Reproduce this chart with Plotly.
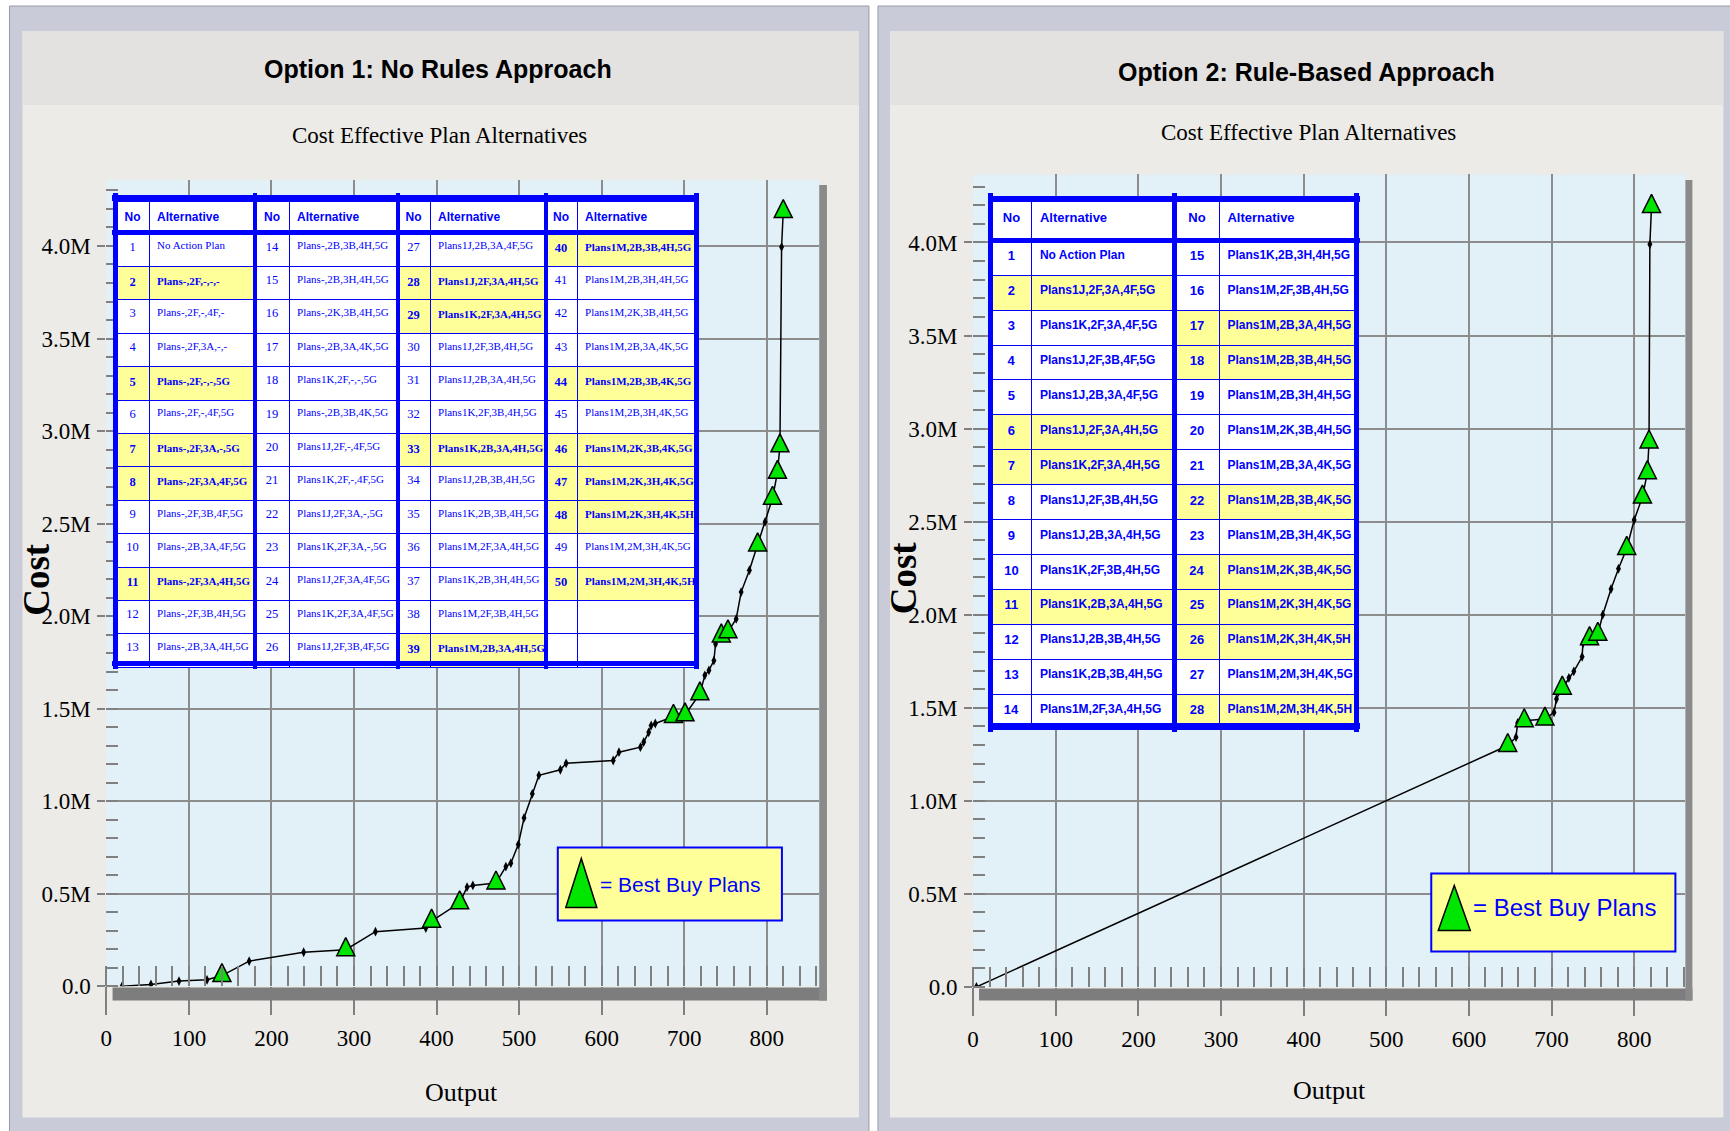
import plotly.graph_objects as go

W, H = 1730, 1131
# the photographed page comes out slightly squeezed; these factors map the
# wanted picture position to the page position
SX, BX, SY = 0.996, 5.5, 0.988

# ---------- data (cost in $M) ----------
opt1_output = [19, 54, 88, 122, 140, 173, 239, 290, 326, 387, 394, 428, 437, 444, 472,
               484, 490, 499, 506, 516, 524, 550, 557, 614, 621, 647, 651, 657, 660, 665,
               687, 701, 719, 725, 730, 736, 738, 745, 753, 763, 769, 779, 789, 798, 807,
               813, 816, 818, 820]
opt1_cost = [0.0, 0.01, 0.028, 0.035, 0.058, 0.136, 0.184, 0.198, 0.295, 0.315, 0.352, 0.451,
             0.536, 0.545, 0.558, 0.647, 0.665, 0.766, 0.91, 1.04, 1.14, 1.17, 1.205, 1.22,
             1.265, 1.292, 1.32, 1.372, 1.409, 1.42, 1.458, 1.467, 1.58, 1.68, 1.707, 1.76,
             1.85, 1.893, 1.915, 1.985, 2.13, 2.248, 2.385, 2.509, 2.637, 2.777, 2.92, 3.995,
             4.186]
opt1_best = [0, 0, 0, 0, 1, 0, 0, 1, 0, 0, 1, 1, 0, 0, 1, 0, 0, 0, 0, 0, 0, 0, 0, 0, 0,
             0, 0, 0, 0, 0, 1, 1, 1, 0, 0, 0, 0, 1, 1, 0, 0, 0, 1, 0, 1, 1, 1, 0, 1]

opt2_output = [4, 647, 657, 659, 667, 692, 703, 706, 713, 721, 727, 737, 738, 746, 756,
               762, 772, 781, 791, 800, 810, 816, 818, 819, 821]
opt2_cost = [0.0, 1.297, 1.342, 1.418, 1.43, 1.439, 1.475, 1.547, 1.605, 1.661, 1.696, 1.774,
             1.846, 1.871, 1.895, 2.0, 2.138, 2.247, 2.356, 2.509, 2.632, 2.763, 2.928, 3.99,
             4.194]
opt2_best = [0, 1, 0, 0, 1, 1, 0, 0, 1, 0, 0, 0, 0, 1, 1, 0, 0, 0, 1, 0, 1, 1, 1, 0, 1]

x_ticks = [0, 100, 200, 300, 400, 500, 600, 700, 800]
y_ticks = [0.0, 0.5, 1.0, 1.5, 2.0, 2.5, 3.0, 3.5, 4.0]
y_ticktext = ["0.0", "0.5M", "1.0M", "1.5M", "2.0M", "2.5M", "3.0M", "3.5M", "4.0M"]

opt1_plans = [
    "No Action Plan", "Plans-,2F,-,-,-", "Plans-,2F,-,4F,-", "Plans-,2F,3A,-,-",
    "Plans-,2F,-,-,5G", "Plans-,2F,-,4F,5G", "Plans-,2F,3A,-,5G", "Plans-,2F,3A,4F,5G",
    "Plans-,2F,3B,4F,5G", "Plans-,2B,3A,4F,5G", "Plans-,2F,3A,4H,5G", "Plans-,2F,3B,4H,5G",
    "Plans-,2B,3A,4H,5G", "Plans-,2B,3B,4H,5G", "Plans-,2B,3H,4H,5G", "Plans-,2K,3B,4H,5G",
    "Plans-,2B,3A,4K,5G", "Plans1K,2F,-,-,5G", "Plans-,2B,3B,4K,5G", "Plans1J,2F,-,4F,5G",
    "Plans1K,2F,-,4F,5G", "Plans1J,2F,3A,-,5G", "Plans1K,2F,3A,-,5G", "Plans1J,2F,3A,4F,5G",
    "Plans1K,2F,3A,4F,5G", "Plans1J,2F,3B,4F,5G", "Plans1J,2B,3A,4F,5G", "Plans1J,2F,3A,4H,5G",
    "Plans1K,2F,3A,4H,5G", "Plans1J,2F,3B,4H,5G", "Plans1J,2B,3A,4H,5G", "Plans1K,2F,3B,4H,5G",
    "Plans1K,2B,3A,4H,5G", "Plans1J,2B,3B,4H,5G", "Plans1K,2B,3B,4H,5G", "Plans1M,2F,3A,4H,5G",
    "Plans1K,2B,3H,4H,5G", "Plans1M,2F,3B,4H,5G", "Plans1M,2B,3A,4H,5G", "Plans1M,2B,3B,4H,5G",
    "Plans1M,2B,3H,4H,5G", "Plans1M,2K,3B,4H,5G", "Plans1M,2B,3A,4K,5G", "Plans1M,2B,3B,4K,5G",
    "Plans1M,2B,3H,4K,5G", "Plans1M,2K,3B,4K,5G", "Plans1M,2K,3H,4K,5G", "Plans1M,2K,3H,4K,5H",
    "Plans1M,2M,3H,4K,5G", "Plans1M,2M,3H,4K,5H"]
opt1_highlight = [2, 5, 7, 8, 11, 28, 29, 33, 39, 40, 44, 46, 47, 48, 50]

opt2_plans = [
    "No Action Plan", "Plans1J,2F,3A,4F,5G", "Plans1K,2F,3A,4F,5G", "Plans1J,2F,3B,4F,5G",
    "Plans1J,2B,3A,4F,5G", "Plans1J,2F,3A,4H,5G", "Plans1K,2F,3A,4H,5G", "Plans1J,2F,3B,4H,5G",
    "Plans1J,2B,3A,4H,5G", "Plans1K,2F,3B,4H,5G", "Plans1K,2B,3A,4H,5G", "Plans1J,2B,3B,4H,5G",
    "Plans1K,2B,3B,4H,5G", "Plans1M,2F,3A,4H,5G", "Plans1K,2B,3H,4H,5G", "Plans1M,2F,3B,4H,5G",
    "Plans1M,2B,3A,4H,5G", "Plans1M,2B,3B,4H,5G", "Plans1M,2B,3H,4H,5G", "Plans1M,2K,3B,4H,5G",
    "Plans1M,2B,3A,4K,5G", "Plans1M,2B,3B,4K,5G", "Plans1M,2B,3H,4K,5G", "Plans1M,2K,3B,4K,5G",
    "Plans1M,2K,3H,4K,5G", "Plans1M,2K,3H,4K,5H", "Plans1M,2M,3H,4K,5G", "Plans1M,2M,3H,4K,5H"]
opt2_highlight = [2, 6, 7, 11, 17, 18, 22, 24, 25, 26, 28]

BLUE = "#0000ff"
YELLOW = "#ffff99"
GREEN = "#00e600"


def px(x):
    return (x - BX) / SX / W


def py(y):
    return 1 - y / SY / H


def rect(x0, y0, x1, y1, fill, line=None, lw=0, layer="below"):
    return dict(type="rect", xref="paper", yref="paper", x0=px(x0), x1=px(x1),
                y0=py(y1), y1=py(y0), fillcolor=fill, layer=layer,
                line=dict(color=line or fill, width=lw))


def bar(x0, y0, x1, y1):
    # solid blue bar drawn as an annotation so it sits above the table layer
    return dict(x=px((x0 + x1) / 2), y=py((y0 + y1) / 2), xref="paper", yref="paper",
                text=" ", showarrow=False, width=(x1 - x0) / SX, height=(y1 - y0) / SY,
                bgcolor=BLUE, borderpad=0, borderwidth=0, xanchor="center", yanchor="middle")


def label(x, y, text, size, family="Liberation Serif", color="black", **kw):
    return dict(x=px(x), y=py(y), xref="paper", yref="paper", text=text, showarrow=False,
                font=dict(family=family, size=size, color=color),
                xanchor=kw.pop("xanchor", "center"), yanchor="middle", **kw)


def make_table(plans, highlight, rows, groups, widths, box, font, sizes, hsize,
               header_h, cell_h, bold_all):
    values, fills, aligns = [], [], []
    for g in range(groups):
        nums, names, cols = [], [], []
        for r in range(rows):
            i = g * rows + r
            if i < len(plans):
                n = i + 1
                hl = n in highlight
                b = hl or bold_all
                nums.append(f"<b>{n}</b>" if b else str(n))
                names.append(f"<b>{plans[i]}</b>" if b else plans[i])
                cols.append(YELLOW if hl else "white")
            else:
                nums.append("")
                names.append("")
                cols.append("white")
        values += [nums, names]
        fills += [cols, cols]
        aligns += ["center", "left"]
    x0, y0, x1, y1 = box
    return go.Table(
        domain=dict(x=[px(x0), px(x1)], y=[py(y1), py(y0)]),
        columnwidth=widths,
        header=dict(values=["<b>No</b>", "<b>Alternative</b>"] * groups,
                    align=aligns, height=header_h / SY, fill_color="white",
                    line=dict(color=BLUE, width=1),
                    font=dict(family="Liberation Sans", size=hsize, color=BLUE)),
        cells=dict(values=values, align=aligns, height=cell_h / SY, fill_color=fills,
                   line=dict(color=BLUE, width=1),
                   font=dict(family=font, size=sizes * groups, color=BLUE)),
    )


fig = go.Figure()

# --- curves ---
for xs, ys, best, xa, ya in [(opt1_output, opt1_cost, opt1_best, "x", "y"),
                             (opt2_output, opt2_cost, opt2_best, "x2", "y2")]:
    fig.add_trace(go.Scatter(
        x=xs, y=ys, mode="lines+markers", xaxis=xa, yaxis=ya,
        line=dict(color="black", width=1.5),
        marker=dict(symbol="diamond-tall", size=7, color="black"),
        showlegend=False, hoverinfo="skip"))
    # flipped arrow-down so that the standoff lifts the triangle onto the point
    fig.add_trace(go.Scatter(
        x=[x for x, b in zip(xs, best) if b], y=[y for y, b in zip(ys, best) if b],
        mode="markers", xaxis=xa, yaxis=ya,
        marker=dict(symbol="arrow-down", angle=180, size=18, color=GREEN, standoff=12,
                    line=dict(color="black", width=1.5)),
        showlegend=False, hoverinfo="skip"))

# --- tables ---
fig.add_trace(make_table(opt1_plans, opt1_highlight, 13, 4,
                         [33, 106, 34, 108, 33, 115, 32, 118],
                         (115.5, 201.7, 695, 672), "Liberation Serif", [12.5, 11], 12,
                         31, 33, False))
fig.add_trace(make_table(opt2_plans, opt2_highlight, 14, 2, [41, 143, 45, 137],
                         (990, 201.7, 1355.5, 732), "Liberation Sans", [13, 12], 13,
                         38, 34.5, True))

# --- frames / backgrounds ---
shapes = [
    rect(9, 6, 868, 1150, "#c9cbd8", "#9a9aa6", 1),
    rect(22, 31, 858, 1117, "#ecebe7"),
    rect(22, 31, 858, 105, "#e3e2e0"),
    rect(877, 6, 1740, 1150, "#c9cbd8", "#9a9aa6", 1),
    rect(889, 31, 1722, 1117, "#ecebe7"),
    rect(889, 31, 1722, 105, "#e3e2e0"),
    rect(105.8, 180, 818.3, 985.8, "#e2f0f7"),
    rect(972.1, 174.3, 1684, 986.4, "#e2f0f7"),
    # 3-D floor / wall shadows
    rect(112, 987, 826, 1000, "#7d7d7d", layer="above"),
    rect(818.3, 185, 826, 1000, "#8a8a8a", layer="above"),
    rect(978, 988, 1691, 1000, "#7d7d7d", layer="above"),
    rect(1684, 180, 1691, 1000, "#8a8a8a", layer="above"),
    # best-buy keys
    rect(557, 847, 781, 920, YELLOW, BLUE, 2, layer="above"),
    rect(1430, 873, 1674, 951, YELLOW, BLUE, 2, layer="above"),
]
for (ax, ay, bw, bh) in [(565, 907, 31, 49), (1437, 930, 32, 45)]:
    shapes.append(dict(type="path", xref="paper", yref="paper", layer="above",
                       path=f"M {px(ax)} {py(ay)} L {px(ax + bw)} {py(ay)} "
                            f"L {px(ax + bw / 2)} {py(ay - bh)} Z",
                       fillcolor=GREEN, line=dict(color="black", width=1.5)))

annotations = [
    label(437, 69, "<b>Option 1: No Rules Approach</b>", 25, "Liberation Sans"),
    label(1305, 72, "<b>Option 2: Rule-Based Approach</b>", 25, "Liberation Sans"),
    label(439, 135, "Cost Effective Plan Alternatives", 23),
    label(1307, 132, "Cost Effective Plan Alternatives", 23),
    label(36, 579, "<b>Cost</b>", 37, textangle=-90),
    label(902, 577, "<b>Cost</b>", 37, textangle=-90),
    label(461, 1092, "Output", 26),
    label(1328, 1090, "Output", 26),
    label(597, 884, "= Best Buy Plans", 21, "Liberation Sans", BLUE, xanchor="left"),
    label(1470, 907, "= Best Buy Plans", 24, "Liberation Sans", BLUE, xanchor="left"),
]
# thick table borders
for x0, y0, x1, y1 in [(113, 195.5, 697.5, 201), (113, 661, 697.5, 666), (113, 195.5, 117.5, 666),
                       (693, 195.5, 697.5, 666), (113, 230.5, 697.5, 235),
                       (252.7, 195.5, 256.7, 666), (395, 195.5, 399, 666), (543, 195.5, 547, 666),
                       (987, 196, 1358, 202), (987, 723, 1358, 729), (987, 196, 992, 729),
                       (1353, 196, 1358, 729), (987, 237.5, 1358, 242.5),
                       (1171, 196, 1176, 729)]:
    annotations.append(bar(x0, y0, x1, y1))

tick_font = dict(family="Liberation Serif", size=23, color="black")
xcommon = dict(tickvals=x_ticks, showgrid=True, gridcolor="#8c8c8c", gridwidth=2,
               zeroline=False, showline=False, ticks="outside", ticklen=28, tickwidth=2,
               tickcolor="#808080", ticklabelstandoff=3, tickfont=tick_font,
               minor=dict(dtick=20, ticks="inside", ticklen=20, tickcolor="#808080",
                          tickwidth=1.5, showgrid=False))
ycommon = dict(tickvals=y_ticks, ticktext=y_ticktext, showgrid=True, gridcolor="#8c8c8c",
               gridwidth=2, zeroline=False, showline=False, ticks="outside", ticklen=8,
               tickwidth=2, tickcolor="#808080", ticklabelstandoff=2, tickfont=tick_font,
               minor=dict(dtick=0.1, ticks="inside", ticklen=12, tickcolor="#808080",
                          tickwidth=1.5, showgrid=False))

fig.update_layout(
    width=W, height=H, margin=dict(l=0, r=0, t=0, b=0),
    paper_bgcolor="white", plot_bgcolor="rgba(0,0,0,0)", showlegend=False,
    xaxis=dict(domain=[px(105.8), px(818.3)], range=[0, 863.6], anchor="y", **xcommon),
    yaxis=dict(domain=[py(985.8), py(180)], range=[0, 4.356], anchor="x", **ycommon),
    xaxis2=dict(domain=[px(972.1), px(1684)], range=[0, 862], anchor="y2", **xcommon),
    yaxis2=dict(domain=[py(986.4), py(174.3)], range=[0, 4.366], anchor="x2", **ycommon),
    shapes=shapes, annotations=annotations,
)

# drop the page's default body margin so the figure starts at the window corner
fig.write_html("out.html", config={"displayModeBar": False},
               post_script="document.body.style.margin='0';"
                           "document.documentElement.style.overflow='hidden';")
